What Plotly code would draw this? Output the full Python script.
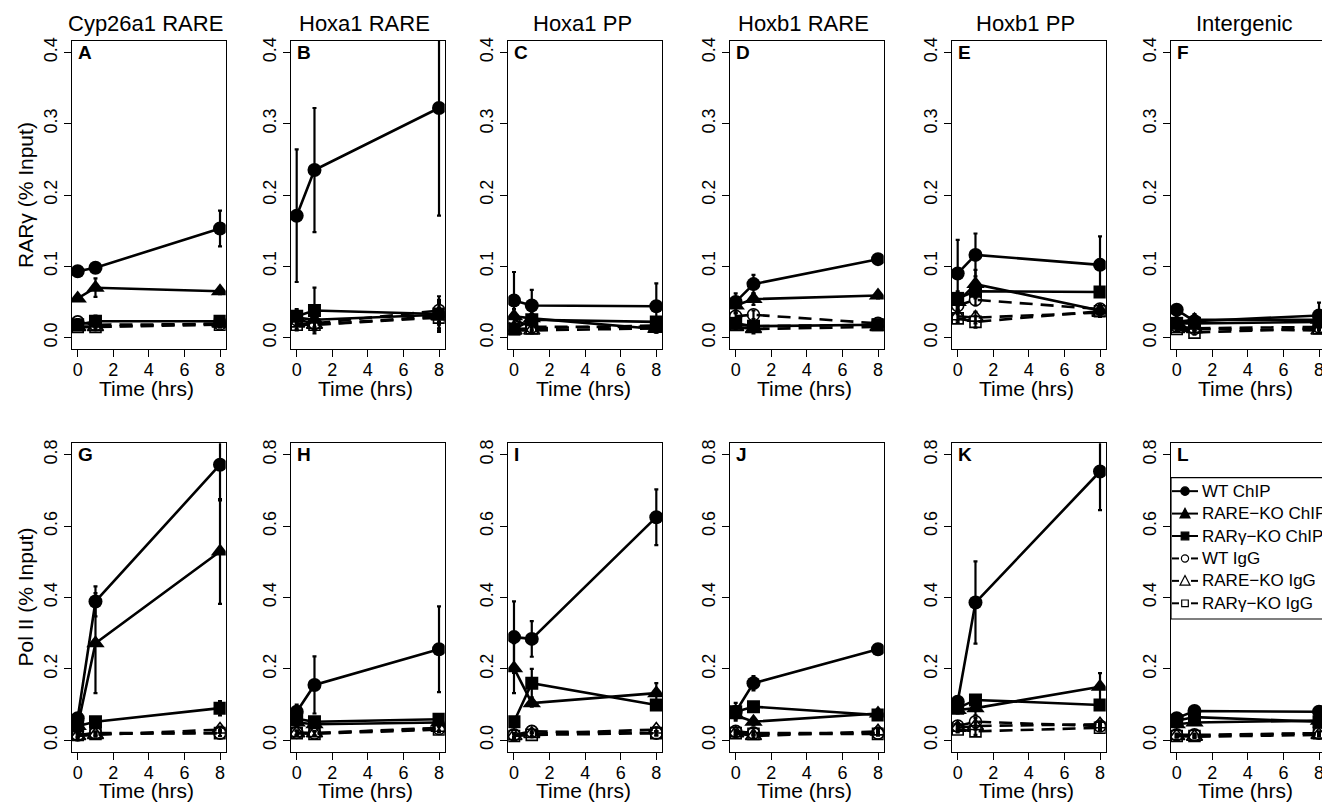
import plotly.graph_objects as go

W, H = 1322, 805
FONT = "Liberation Sans, Arial, Helvetica, sans-serif"

times = [0, 1, 8]
x_ticks = [0, 2, 4, 6, 8]
top_titles = ["Cyp26a1 RARE", "Hoxa1 RARE", "Hoxa1 PP", "Hoxb1 RARE", "Hoxb1 PP", "Intergenic"]
letters = list("ABCDEFGHIJKL")
series_names = ["WT ChIP", "RARE\u2212KO ChIP", "RAR\u03b3\u2212KO ChIP",
                "WT IgG", "RARE\u2212KO IgG", "RAR\u03b3\u2212KO IgG"]
row_ylabels = ["RAR\u03b3 (% Input)", "Pol II (% Input)"]
top_yticks = [0.0, 0.1, 0.2, 0.3, 0.4]
bot_yticks = [0.0, 0.2, 0.4, 0.6, 0.8]

# ---- RARγ ChIP (top row, panels A-F), values at 0, 1, 8 h ----
rar_wt_chip = [[0.093, 0.098, 0.153], [0.171, 0.235, 0.322], [0.052, 0.045, 0.044],
               [0.050, 0.075, 0.110], [0.090, 0.116, 0.102], [0.039, 0.023, 0.031]]
rar_wt_chip_err = [[0.004, 0.004, 0.025], [0.093, 0.087, 0.151], [0.040, 0.022, 0.032],
                   [0.012, 0.013, 0.004], [0.047, 0.030, 0.040], [0.005, 0.004, 0.018]]
rar_rareko_chip = [[0.055, 0.070, 0.065], [0.028, 0.025, 0.032], [0.030, 0.027, 0.012],
                   [0.045, 0.054, 0.059], [0.050, 0.075, 0.038], [0.022, 0.025, 0.025]]
rar_rareko_chip_err = [[0.003, 0.013, 0.004], [0.010, 0.010, 0.010], [0.010, 0.010, 0.005],
                       [0.010, 0.008, 0.004], [0.010, 0.020, 0.005], [0.005, 0.008, 0.005]]
rar_rargko_chip = [[0.018, 0.023, 0.023], [0.030, 0.038, 0.033], [0.012, 0.025, 0.022],
                   [0.020, 0.016, 0.018], [0.055, 0.065, 0.064], [0.020, 0.020, 0.022]]
rar_rargko_chip_err = [[0.003, 0.008, 0.004], [0.010, 0.032, 0.020], [0.004, 0.006, 0.006],
                       [0.005, 0.004, 0.003], [0.010, 0.008, 0.006], [0.004, 0.004, 0.004]]
rar_wt_igg = [[0.022, 0.018, 0.019], [0.025, 0.020, 0.038], [0.025, 0.015, 0.015],
              [0.030, 0.032, 0.020], [0.045, 0.053, 0.040], [0.016, 0.013, 0.015]]
rar_rareko_igg = [[0.015, 0.015, 0.020], [0.020, 0.018, 0.030], [0.010, 0.010, 0.013],
                  [0.015, 0.012, 0.015], [0.030, 0.028, 0.035], [0.012, 0.012, 0.010]]
rar_rargko_igg = [[0.015, 0.015, 0.018], [0.018, 0.018, 0.028], [0.012, 0.013, 0.017],
                  [0.018, 0.016, 0.018], [0.027, 0.022, 0.037], [0.012, 0.007, 0.013]]
rar_igg_err = [[0.004, 0.004, 0.004], [0.008, 0.008, 0.020], [0.004, 0.004, 0.004],
               [0.004, 0.006, 0.004], [0.006, 0.008, 0.006], [0.003, 0.003, 0.003]]

# ---- Pol II ChIP (bottom row, panels G-L) ----
pol_wt_chip = [[0.062, 0.389, 0.772], [0.080, 0.155, 0.255], [0.289, 0.284, 0.625],
               [0.080, 0.160, 0.255], [0.108, 0.386, 0.753], [0.062, 0.082, 0.080]]
pol_wt_chip_err = [[0.010, 0.042, 0.100], [0.020, 0.080, 0.120], [0.100, 0.050, 0.078],
                   [0.025, 0.020, 0.008], [0.015, 0.115, 0.108], [0.008, 0.008, 0.008]]
pol_rareko_chip = [[0.040, 0.272, 0.529], [0.050, 0.045, 0.050], [0.202, 0.104, 0.132],
                   [0.070, 0.052, 0.075], [0.085, 0.090, 0.150], [0.045, 0.050, 0.055]]
pol_rareko_chip_err = [[0.010, 0.140, 0.147], [0.010, 0.010, 0.010], [0.070, 0.010, 0.028],
                       [0.010, 0.010, 0.010], [0.010, 0.020, 0.038], [0.005, 0.005, 0.005]]
pol_rargko_chip = [[0.040, 0.052, 0.090], [0.060, 0.052, 0.059], [0.052, 0.160, 0.099],
                   [0.080, 0.094, 0.071], [0.090, 0.113, 0.099], [0.055, 0.065, 0.052]]
pol_rargko_chip_err = [[0.005, 0.008, 0.020], [0.010, 0.010, 0.010], [0.010, 0.040, 0.010],
                       [0.010, 0.010, 0.010], [0.010, 0.010, 0.010], [0.005, 0.005, 0.005]]
pol_wt_igg = [[0.015, 0.020, 0.020], [0.022, 0.020, 0.033], [0.015, 0.025, 0.020],
              [0.025, 0.020, 0.020], [0.040, 0.052, 0.040], [0.015, 0.015, 0.020]]
pol_rareko_igg = [[0.012, 0.015, 0.030], [0.020, 0.020, 0.035], [0.012, 0.018, 0.030],
                  [0.020, 0.012, 0.025], [0.035, 0.040, 0.045], [0.012, 0.010, 0.015]]
pol_rargko_igg = [[0.015, 0.018, 0.020], [0.020, 0.018, 0.030], [0.012, 0.015, 0.020],
                  [0.020, 0.018, 0.018], [0.030, 0.025, 0.035], [0.012, 0.012, 0.020]]
pol_igg_err = [[0.005, 0.005, 0.008], [0.006, 0.006, 0.008], [0.005, 0.006, 0.006],
               [0.005, 0.005, 0.005], [0.008, 0.010, 0.008], [0.004, 0.004, 0.004]]

rows = [
    [(rar_wt_chip, rar_wt_chip_err), (rar_rareko_chip, rar_rareko_chip_err),
     (rar_rargko_chip, rar_rargko_chip_err), (rar_wt_igg, rar_igg_err),
     (rar_rareko_igg, rar_igg_err), (rar_rargko_igg, rar_igg_err)],
    [(pol_wt_chip, pol_wt_chip_err), (pol_rareko_chip, pol_rareko_chip_err),
     (pol_rargko_chip, pol_rargko_chip_err), (pol_wt_igg, pol_igg_err),
     (pol_rareko_igg, pol_igg_err), (pol_rargko_igg, pol_igg_err)],
]

symbols = ["circle", "triangle-up", "square", "circle-open", "triangle-up-open", "square-open"]
dashes = ["solid", "solid", "solid", "13px,8px", "13px,8px", "13px,8px"]
msizes = [14, 16, 13, 12, 14, 11]

# ---- layout geometry (pixels) ----
col_left = [72, 291, 508.3, 730, 952, 1171]
box_w = 153.7
row_top = [41, 443.3]
row_bot = [349, 751.7]
xr = [-0.32, 8.32]
yranges = [[-0.016, 0.416], [-0.032, 0.832]]


def px_x(p):
    return p / W


def px_y(p):
    return 1 - p / H


fig = go.Figure()
layout = {}
annotations = []
shapes = []

for r in range(2):
    for c in range(6):
        i = r * 6 + c
        xa = "x" if i == 0 else f"x{i+1}"
        ya = "y" if i == 0 else f"y{i+1}"
        left = col_left[c]
        right = left + box_w
        rng = list(xr)
        if right > W:
            rng[1] = xr[0] + (W - left) / box_w * (xr[1] - xr[0])
            right = W
        xkey = "xaxis" if i == 0 else f"xaxis{i+1}"
        ykey = "yaxis" if i == 0 else f"yaxis{i+1}"
        layout[xkey] = dict(
            domain=[px_x(left), px_x(right)], range=rng, anchor=ya,
            tickmode="array", tickvals=x_ticks, ticktext=[str(t) for t in x_ticks],
            ticks="outside", ticklen=7, tickwidth=1, tickcolor="black",
            showline=True, mirror=True, linecolor="black", linewidth=1.2,
            showgrid=False, zeroline=False, automargin=False,
            ticklabeloverflow="allow", ticklabelstandoff=-3,
            tickfont=dict(family=FONT, size=18, color="black"),
        )
        yt = top_yticks if r == 0 else bot_yticks
        layout[ykey] = dict(
            domain=[px_y(row_bot[r]), px_y(row_top[r])], range=yranges[r], anchor=xa,
            tickmode="array", tickvals=yt, ticktext=[f"{v:.1f}" for v in yt],
            ticks="outside", ticklen=7, tickwidth=1, tickcolor="black",
            showline=True, mirror=(c != 5), linecolor="black", linewidth=1.2,
            showgrid=False, zeroline=False, tickangle=-90, automargin=False,
            tickfont=dict(family=FONT, size=18, color="black"),
        )
        for s in range(6):
            vals, errs = rows[r][s]
            is_open = s >= 3
            fig.add_trace(go.Scatter(
                x=times, y=vals[c], xaxis=xa, yaxis=ya,
                mode="lines+markers", showlegend=False, cliponaxis=True,
                line=dict(color="black", width=2.6, dash=dashes[s]),
                marker=dict(symbol=symbols[s], size=msizes[s], color="black",
                            line=dict(color="black", width=1.6 if is_open else 0)),
                error_y=dict(type="data", array=errs[c], visible=True,
                             color="black", thickness=2.2, width=2),
                name=series_names[s],
            ))
        annotations.append(dict(
            text=f"<b>{letters[i]}</b>", xref=f"{xa} domain", yref=f"{ya} domain",
            x=0, y=1, xanchor="left", yanchor="top", xshift=4, yshift=1,
            showarrow=False, font=dict(family=FONT, size=19, color="black")))
        annotations.append(dict(
            text="Time (hrs)", xref="paper", yref="paper",
            x=px_x(left + box_w / 2 - 2), y=px_y(row_bot[r] + 39),
            xanchor="center", yanchor="middle", showarrow=False,
            font=dict(family=FONT, size=21, color="black")))
    annotations.append(dict(
        text=row_ylabels[r], xref="paper", yref="paper",
        x=px_x(25), y=px_y((row_top[r] + row_bot[r]) / 2), textangle=-90,
        xanchor="center", yanchor="middle", showarrow=False,
        font=dict(family=FONT, size=21, color="black")))

for c in range(6):
    annotations.append(dict(
        text=top_titles[c], xref="paper", yref="paper",
        x=px_x(col_left[c] + box_w / 2 - 3), y=px_y(23),
        xanchor="center", yanchor="middle", showarrow=False,
        font=dict(family=FONT, size=22, color="black")))

# ---- legend drawn inside panel L (box runs off the right edge like the original) ----
leg_left, leg_top, leg_bot = 1171, 477.7, 619
shapes.append(dict(type="rect", xref="paper", yref="paper",
                   x0=px_x(leg_left), x1=px_x(1340), y0=px_y(leg_bot), y1=px_y(leg_top),
                   line=dict(color="black", width=1.2), fillcolor="white", layer="above"))
row_h = (leg_bot - leg_top) / 6.3
key_x = 1185
for s in range(6):
    yc = leg_top + row_h * (0.6 + s)
    lw = dict(color="black", width=2)
    if s < 3:
        shapes.append(dict(type="line", xref="paper", yref="paper", x0=px_x(1172), x1=px_x(1198),
                           y0=px_y(yc), y1=px_y(yc), line=lw, layer="above"))
    else:
        for a, b in [(1172, 1179), (1191, 1198)]:
            shapes.append(dict(type="line", xref="paper", yref="paper", x0=px_x(a), x1=px_x(b),
                               y0=px_y(yc), y1=px_y(yc), line=lw, layer="above"))
    fill = "black" if s < 3 else "white"
    kind = s % 3
    if kind == 0:
        rad = 4.2 if s < 3 else 3.6
        shapes.append(dict(type="circle", xref="paper", yref="paper",
                           x0=px_x(key_x - rad), x1=px_x(key_x + rad),
                           y0=px_y(yc + rad), y1=px_y(yc - rad),
                           fillcolor=fill, line=dict(color="black", width=1.2), layer="above"))
    elif kind == 1:
        hw, hh = 5.0, 4.3
        path = (f"M {px_x(key_x - hw)},{px_y(yc + hh)} L {px_x(key_x + hw)},{px_y(yc + hh)} "
                f"L {px_x(key_x)},{px_y(yc - hh - 1)} Z")
        shapes.append(dict(type="path", xref="paper", yref="paper", path=path,
                           fillcolor=fill, line=dict(color="black", width=1.2), layer="above"))
    else:
        hs = 3.8 if s < 3 else 3.3
        shapes.append(dict(type="rect", xref="paper", yref="paper",
                           x0=px_x(key_x - hs), x1=px_x(key_x + hs),
                           y0=px_y(yc + hs), y1=px_y(yc - hs),
                           fillcolor=fill, line=dict(color="black", width=1.2), layer="above"))
    annotations.append(dict(
        text=series_names[s], xref="paper", yref="paper",
        x=px_x(1200), y=px_y(yc), xanchor="left", yanchor="middle", showarrow=False,
        font=dict(family=FONT, size=17, color="black")))

fig.update_layout(
    width=W, height=H, margin=dict(l=0, r=0, t=0, b=0, autoexpand=False),
    paper_bgcolor="white", plot_bgcolor="white",
    font=dict(family=FONT, color="black"),
    showlegend=False, hovermode=False,
    annotations=annotations, shapes=shapes,
    **layout,
)

fig.write_html(
    "out.html",
    config={"displayModeBar": False, "staticPlot": True},
    post_script="document.body.style.margin='0px';document.body.style.overflow='hidden';",
)
